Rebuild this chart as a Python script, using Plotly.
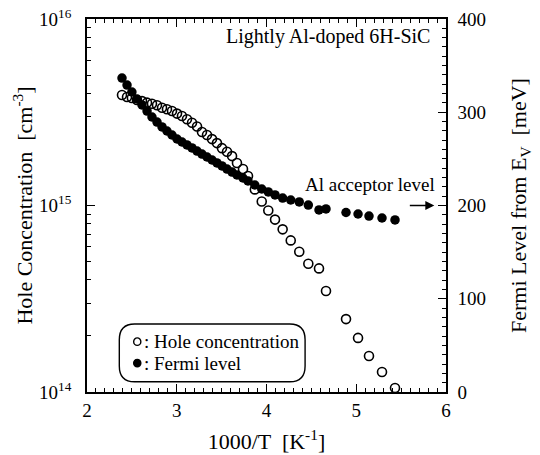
import plotly.graph_objects as go

# 1000/T values (shared by both series)
inv_T = [2.39, 2.446, 2.50, 2.557, 2.613, 2.669, 2.724, 2.78, 2.836, 2.891,
         2.947, 3.003, 3.058, 3.114, 3.17, 3.226, 3.281, 3.337, 3.393, 3.448,
         3.504, 3.56, 3.616, 3.671, 3.738, 3.794, 3.87, 3.947, 4.02, 4.095,
         4.18, 4.27, 4.365, 4.466, 4.585, 4.663, 4.886, 5.02, 5.142, 5.287, 5.432]

hole_conc = [3.91e15, 3.82e15, 3.77e15, 3.68e15, 3.63e15, 3.56e15, 3.51e15, 3.45e15,
             3.34e15, 3.28e15, 3.21e15, 3.11e15, 3.02e15, 2.90e15, 2.78e15, 2.65e15,
             2.48e15, 2.39e15, 2.27e15, 2.16e15, 2.03e15, 1.94e15, 1.84e15, 1.69e15,
             1.57e15, 1.44e15, 1.22e15, 1.05e15, 9.4e14, 8.4e14, 7.45e14, 6.5e14,
             5.65e14, 4.87e14, 4.6e14, 3.48e14, 2.46e14, 1.95e14, 1.56e14, 1.28e14, 1.05e14]

fermi_level = [336.7, 329.2, 321.7, 314.2, 307.8, 301.3, 294.9, 289.5, 284.2, 279.9,
               275.6, 271.3, 268.1, 264.9, 261.7, 258.4, 255.2, 252.0, 248.8, 245.6,
               242.4, 239.1, 235.9, 232.7, 229.5, 226.3, 222.0, 217.7, 214.5, 211.3,
               208.0, 205.9, 203.8, 200.5, 195.2, 196.3, 192.5, 190.9, 188.7, 186.6, 184.5]

x_ticks = [2, 3, 4, 5, 6]
y_ticks = [1e14, 1e15, 1e16]
y_tick_labels = ["10<sup>14</sup>", "10<sup>15</sup>", "10<sup>16</sup>"]
y_minor = [m * 10 ** e for e in (14, 15) for m in range(2, 10)]
y2_ticks = [0, 100, 200, 300, 400]
acceptor_level = 200

FONT = "Liberation Serif, Times New Roman, serif"

fig = go.Figure()
fig.add_trace(go.Scatter(
    x=inv_T, y=hole_conc, mode="markers", name="Hole concentration",
    marker=dict(symbol="circle-open", size=9, color="black", line=dict(width=1.6)),
))
fig.add_trace(go.Scatter(
    x=inv_T, y=fermi_level, mode="markers", name="Fermi level", yaxis="y2",
    marker=dict(symbol="circle", size=9.5, color="black"),
))

axis_common = dict(showline=True, linecolor="black", linewidth=1.6,
                   ticks="inside", ticklen=8, tickwidth=1.4, tickcolor="black",
                   showgrid=False, zeroline=False, automargin=False,
                   tickfont=dict(family=FONT, size=19, color="black"))
minor_common = dict(ticks="inside", ticklen=4.5, tickwidth=1.2, tickcolor="black",
                    showgrid=False)

fig.update_layout(
    width=540, height=455,
    margin=dict(l=87, r=94, t=19, b=63),
    plot_bgcolor="white", paper_bgcolor="white",
    showlegend=False,
    font=dict(family=FONT, color="black"),
    xaxis=dict(**axis_common, range=[2, 6], tickvals=x_ticks, mirror="ticks",
               minor=dict(**minor_common, dtick=0.1, tick0=2),
               title=dict(text="1000/T  [K<sup>-1</sup>]", font=dict(family=FONT, size=22),
                          standoff=14)),
    yaxis=dict(**axis_common, type="log", range=[14, 16], tickvals=y_ticks,
               ticktext=y_tick_labels, ticklabelstandoff=10,
               minor=dict(**minor_common, tickvals=y_minor),
               title=dict(text="Hole Concentration  [cm<sup>-3</sup>]",
                          font=dict(family=FONT, size=22), standoff=0)),
    yaxis2=dict(**axis_common, overlaying="y", side="right", range=[0, 400],
                tickvals=y2_ticks, ticklabelstandoff=6,
                minor=dict(**minor_common, dtick=10, tick0=0),
                title=dict(text="Fermi Level from E<sub>V</sub>  [meV]",
                           font=dict(family=FONT, size=22), standoff=26)),
)

# Rounded legend box (data coordinates of x / y2)
bx0, bx1, by0, by1 = 2.36, 4.43, 11.0, 73.0
rx, ry = 0.17, 17.0
path = (f"M {bx0+rx},{by0} L {bx1-rx},{by0} Q {bx1},{by0} {bx1},{by0+ry} "
        f"L {bx1},{by1-ry} Q {bx1},{by1} {bx1-rx},{by1} L {bx0+rx},{by1} "
        f"Q {bx0},{by1} {bx0},{by1-ry} L {bx0},{by0+ry} Q {bx0},{by0} {bx0+rx},{by0} Z")
fig.add_shape(type="path", path=path, xref="x", yref="y2",
              line=dict(color="black", width=1.4))
for cy, filled in ((54.0, False), (31.0, True)):
    fig.add_shape(type="circle", xref="x", yref="y2", x0=2.52, x1=2.60,
                  y0=cy - 4.0, y1=cy + 4.0,
                  line=dict(color="black", width=1.4),
                  fillcolor="black" if filled else "white")
fig.add_annotation(x=2.61, y=54.0, xref="x", yref="y2", text=": Hole concentration",
                   showarrow=False, xanchor="left", yanchor="middle",
                   font=dict(family=FONT, size=19))
fig.add_annotation(x=2.61, y=31.0, xref="x", yref="y2", text=": Fermi level",
                   showarrow=False, xanchor="left", yanchor="middle",
                   font=dict(family=FONT, size=19))

fig.add_annotation(x=0.962, y=0.953, xref="paper", yref="paper",
                   text="Lightly Al-doped 6H-SiC", showarrow=False,
                   xanchor="right", yanchor="middle", font=dict(family=FONT, size=20))
fig.add_annotation(x=0.974, y=209, xref="paper", yref="y2",
                   text="Al acceptor level", showarrow=False,
                   xanchor="right", yanchor="bottom", font=dict(family=FONT, size=19))
fig.add_annotation(x=5.87, y=acceptor_level, xref="x", yref="y2", ax=-26, ay=0,
                   showarrow=True, arrowhead=2, arrowsize=1.2, arrowwidth=1.5,
                   arrowcolor="black", text="")

fig.write_html("out.html", config={"displayModeBar": False},
               post_script="document.body.style.margin='0px';")
